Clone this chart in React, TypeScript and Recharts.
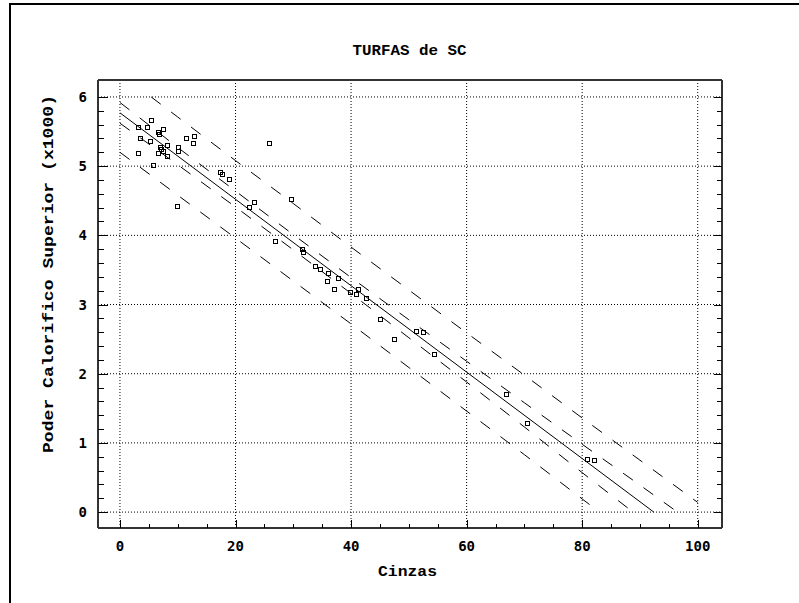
import { ComposedChart, Line, ReferenceLine, Scatter, XAxis, YAxis } from "recharts"

// amostras (cinzas %, poder calorifico x1000)
const cinzas = [
    5.4, 3.2, 4.7, 6.5, 6.8, 7.4, 3.5, 5.2, 8.2, 6.9, 7.1, 7.5, 6.5, 3.2, 8.2, 10.0, 10.1, 11.4, 12.9, 12.7, 5.7, 9.9,
    17.3, 17.7, 18.9, 25.8, 23.2, 22.3, 29.6, 26.9, 31.5, 31.6, 33.7, 34.6, 35.8, 36.0, 37.1, 37.8, 39.9, 40.8, 41.2,
    42.6, 45.0, 47.4, 51.2, 52.4, 54.4, 66.9, 70.4, 80.9, 82.0,
]
const poder = [
    5.66, 5.57, 5.56, 5.49, 5.47, 5.53, 5.4, 5.37, 5.31, 5.27, 5.25, 5.22, 5.19, 5.19, 5.15, 5.27, 5.22, 5.4, 5.44, 5.33,
    5.01, 4.43, 4.91, 4.88, 4.82, 5.34, 4.48, 4.41, 4.52, 3.92, 3.8, 3.76, 3.55, 3.52, 3.34, 3.45, 3.22, 3.39, 3.18, 3.15,
    3.23, 3.1, 2.79, 2.5, 2.62, 2.61, 2.28, 1.71, 1.29, 0.77, 0.75,
]

// reta de regressao
const retaX = [0, 92.4]
const retaY = [5.77, 0]

// faixas
const supExtX = [5.4, 10, 20, 30, 40, 50, 60, 70, 80, 90, 100]
const supExtY = [6.0, 5.71, 5.08, 4.46, 3.83, 3.21, 2.59, 1.98, 1.36, 0.75, 0.14]
const supIntX = [0, 10, 20, 30, 40, 50, 60, 70, 80, 90, 96.5]
const supIntY = [5.92, 5.27, 4.64, 4.01, 3.39, 2.78, 2.18, 1.58, 0.98, 0.39, 0]
const infIntX = [0, 10, 20, 30, 40, 50, 60, 70, 80, 88.8]
const infIntY = [5.62, 5.02, 4.41, 3.79, 3.16, 2.52, 1.88, 1.23, 0.57, 0]
const infExtX = [0, 10, 20, 30, 40, 50, 60, 70, 80, 83]
const infExtY = [5.2, 4.58, 3.96, 3.34, 2.72, 2.09, 1.46, 0.83, 0.19, 0]

const xTicks = [0, 20, 40, 60, 80, 100]
const xMinor = [0, 5, 10, 15, 20, 25, 30, 35, 40, 45, 50, 55, 60, 65, 70, 75, 80, 85, 90, 95, 100]
const yTicks = [0, 1, 2, 3, 4, 5, 6]
const yMinor = [
    0, 0.2, 0.4, 0.6, 0.8, 1, 1.2, 1.4, 1.6, 1.8, 2, 2.2, 2.4, 2.6, 2.8, 3, 3.2, 3.4, 3.6, 3.8, 4, 4.2, 4.4, 4.6, 4.8, 5,
    5.2, 5.4, 5.6, 5.8, 6,
]

const xDomain = [-3.8, 104.2]
const yDomain = [-0.23, 6.245]

const toPts = (xs: number[], ys: number[]) => xs.map((x, i) => ({ x, y: ys[i] }))

const pontos = toPts(cinzas, poder)
const reta = toPts(retaX, retaY)
const faixas = [toPts(supExtX, supExtY), toPts(supIntX, supIntY), toPts(infIntX, infIntY), toPts(infExtX, infExtY)]

const tickFont = { fontSize: 14, fontWeight: 700, fontFamily: "DejaVu Sans Mono", fill: "#000" }
const labelFont = { fontFamily: "Liberation Mono", fontWeight: 700, fontSize: 15, fill: "#000" }
const frame = { stroke: "#333", strokeWidth: 2 }

type Side = "bottom" | "top" | "left" | "right"

// tick para dentro do quadro, maior nos valores rotulados
const makeTick = (side: Side, majors: number[], majorLen: number, minorLen: number, label: boolean) => (props: any) => {
    const { x, y, payload } = props
    const v = payload.value
    const isMajor = majors.some((m) => Math.abs(m - v) < 1e-6)
    const len = isMajor ? majorLen : minorLen
    const px = Math.round(x) + 0.5
    const py = Math.round(y) + 0.5
    let line = null
    let text = null
    if (side === "bottom") {
        line = <line x1={px} y1={y} x2={px} y2={y - len} stroke="#000" />
        if (label && isMajor)
            text = (
                <text x={x} y={y + 18} textAnchor="middle" dominantBaseline="central" {...tickFont}>
                    {v}
                </text>
            )
    } else if (side === "top") {
        line = <line x1={px} y1={y} x2={px} y2={y + len} stroke="#000" />
    } else if (side === "left") {
        line = <line x1={x} y1={py} x2={x + len} y2={py} stroke="#000" />
        if (label && isMajor)
            text = (
                <text x={x - 11} y={y} textAnchor="end" dominantBaseline="central" {...tickFont}>
                    {v}
                </text>
            )
    } else {
        line = <line x1={x} y1={py} x2={x - len} y2={py} stroke="#000" />
    }
    return (
        <g>
            {line}
            {text}
        </g>
    )
}

const Square = (props: any) => {
    const { cx, cy } = props
    if (cx == null || cy == null) return null
    const x = Math.round(cx) - 2 + 0.5
    const y = Math.round(cy) - 2 + 0.5
    return <rect x={x} y={y} width={4} height={4} fill="none" stroke="#000" strokeWidth={1} />
}

export default function App() {
    return (
        <div style={{ position: "absolute", left: 0, top: 0, width: 799, height: 603, background: "#fff", overflow: "hidden" }}>
            <div style={{ position: "absolute", left: 9, top: 3, width: 800, height: 610, borderLeft: "2px solid #000", borderTop: "2px solid #000" }} />
            <ComposedChart width={799} height={603} margin={{ top: 79, right: 76, bottom: 74, left: 97 }} style={{ position: "absolute", left: 0, top: 0 }}>
                {xTicks.map((v) => (
                    <ReferenceLine key={"gx" + v} x={v} stroke="#000" strokeDasharray="1 2" />
                ))}
                {yTicks.map((v) => (
                    <ReferenceLine key={"gy" + v} y={v} stroke="#000" strokeDasharray="1 2" />
                ))}
                <XAxis
                    dataKey="x"
                    type="number"
                    domain={xDomain}
                    allowDataOverflow
                    ticks={xMinor}
                    interval={0}
                    height={1}
                    tickSize={0}
                    tickMargin={0}
                    tickLine={false}
                    tick={makeTick("bottom", xTicks, 8, 4, true)}
                    axisLine={frame}
                />
                <XAxis
                    xAxisId="top"
                    orientation="top"
                    type="number"
                    domain={xDomain}
                    allowDataOverflow
                    ticks={xMinor}
                    interval={0}
                    height={1}
                    tickSize={0}
                    tickMargin={0}
                    tickLine={false}
                    tick={makeTick("top", xTicks, 8, 6, false)}
                    axisLine={frame}
                />
                <YAxis
                    dataKey="y"
                    type="number"
                    domain={yDomain}
                    allowDataOverflow
                    ticks={yMinor}
                    interval={0}
                    width={1}
                    tickSize={0}
                    tickMargin={0}
                    tickLine={false}
                    tick={makeTick("left", yTicks, 10, 6, true)}
                    axisLine={frame}
                />
                <YAxis
                    yAxisId="right"
                    orientation="right"
                    type="number"
                    domain={yDomain}
                    allowDataOverflow
                    ticks={yMinor}
                    interval={0}
                    width={1}
                    tickSize={0}
                    tickMargin={0}
                    tickLine={false}
                    tick={makeTick("right", yTicks, 8, 5, false)}
                    axisLine={frame}
                />
                {faixas.map((f, i) => (
                    <Line key={i} data={f} dataKey="y" type="linear" stroke="#000" strokeWidth={1} strokeDasharray="12 13" dot={false} activeDot={false} isAnimationActive={false} />
                ))}
                <Line data={reta} dataKey="y" type="linear" stroke="#000" strokeWidth={1} dot={false} activeDot={false} isAnimationActive={false} />
                <Scatter data={pontos} dataKey="y" shape={Square} isAnimationActive={false} />
            </ComposedChart>
            <svg width={799} height={603} style={{ position: "absolute", left: 0, top: 0, pointerEvents: "none" }}>
                <text x={409.5} y={55} textAnchor="middle" textLength={114} lengthAdjust="spacingAndGlyphs" {...labelFont}>
                    TURFAS de SC
                </text>
                <text x={407.5} y={576} textAnchor="middle" textLength={59} lengthAdjust="spacingAndGlyphs" {...labelFont}>
                    Cinzas
                </text>
                <text
                    transform="translate(49, 274) rotate(-90)"
                    x={0}
                    y={0}
                    textAnchor="middle"
                    dominantBaseline="central"
                    textLength={358}
                    lengthAdjust="spacingAndGlyphs"
                    {...labelFont}
                >
                    Poder Calorifico Superior (x1000)
                </text>
            </svg>
        </div>
    )
}
